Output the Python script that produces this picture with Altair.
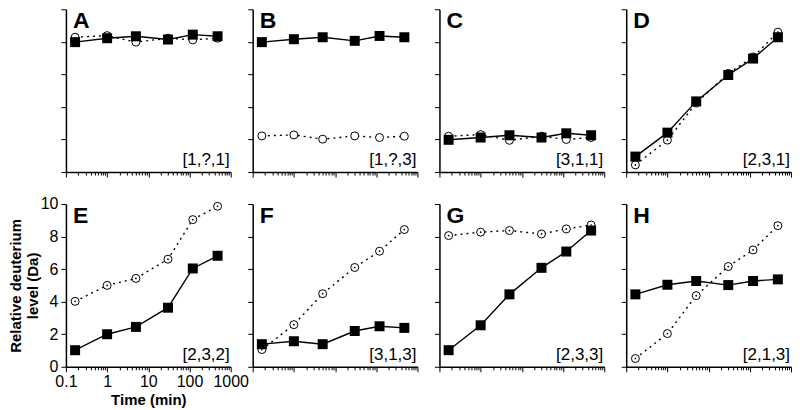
import altair as alt
import pandas as pd

panels = ["A", "B", "C", "D", "E", "F", "G", "H"]
codes = ["[1,?,1]", "[1,?,3]", "[3,1,1]", "[2,3,1]",
         "[2,3,2]", "[3,1,3]", "[2,3,3]", "[2,1,3]"]
times = [0.167, 1, 5, 30, 120, 480]

a_filled = [7.98, 8.22, 8.34, 8.14, 8.44, 8.34]
a_open = [8.28, 8.38, 7.98, 8.22, 8.12, 8.22]
b_filled = [7.98, 8.16, 8.28, 8.06, 8.36, 8.28]
b_open = [2.22, 2.28, 2.02, 2.22, 2.12, 2.20]
c_filled = [1.98, 2.12, 2.26, 2.12, 2.38, 2.26]
c_open = [2.20, 2.30, 1.95, 2.20, 2.00, 2.12]
d_filled = [0.95, 2.42, 4.34, 5.96, 6.97, 8.28]
d_open = [0.44, 1.96, 4.24, 6.06, 7.07, 8.59]
e_filled = [1.02, 2.00, 2.45, 3.63, 6.04, 6.82]
e_open = [4.02, 5.00, 5.43, 6.61, 9.04, 9.86]
f_filled = [1.39, 1.57, 1.39, 2.20, 2.49, 2.39]
f_open = [1.06, 2.59, 4.49, 6.10, 7.10, 8.43]
g_filled = [1.02, 2.55, 4.45, 6.08, 7.08, 8.37]
g_open = [8.06, 8.27, 8.37, 8.16, 8.47, 8.71]
h_filled = [4.45, 5.04, 5.27, 5.02, 5.27, 5.37]
h_open = [0.51, 2.04, 4.37, 6.16, 7.18, 8.67]

filled_series = [a_filled, b_filled, c_filled, d_filled, e_filled, f_filled, g_filled, h_filled]
open_series = [a_open, b_open, c_open, d_open, e_open, f_open, g_open, h_open]
dotted_centres = [False, False, False, True, True, True, True, True]

y_ticks = [0, 2, 4, 6, 8, 10]
x_ticks = [m * 10 ** e for e in range(-1, 3) for m in range(1, 10)] + [1000]

W, H = 165, 163
FONT = "Liberation Sans"
major = "abs(log(datum.value)/LN10 - round(log(datum.value)/LN10)) < 0.01"


def panel(i):
    letter = panels[i]
    df = pd.DataFrame({"t": times, "filled": filled_series[i], "open": open_series[i]})
    show = letter == "E"
    xaxis_kw = dict(
        values=x_ticks, orient="bottom", grid=False, domainColor="black", domainWidth=1.5,
        tickColor="black", tickWidth=1,
        tickSize={"condition": {"test": major, "value": 5}, "value": 3},
        labels=show, labelOverlap=False, labelFlush=False, labelBound=False,
        labelExpr=major + " ? format(datum.value, '~g') : ''",
        labelFont=FONT, labelFontSize=16, labelColor="black", labelPadding=2,
    )
    yaxis_kw = dict(
        values=y_ticks, orient="left", grid=False, domainColor="black", domainWidth=1.5,
        tickColor="black", tickWidth=1, tickSize=5, labels=show, labelFlush=False,
        labelOverlap=False, labelFont=FONT, labelFontSize=16, labelColor="black", labelPadding=3,
    )
    if show:
        xaxis = alt.Axis(title="Time (min)", titleFont=FONT, titleFontSize=15, titleFontWeight="bold",
                         titleColor="black", titlePadding=3, **xaxis_kw)
        yaxis = alt.Axis(title=["Relative deuterium", "level (Da)"], titleFont=FONT, titleFontSize=15,
                         titleFontWeight="bold", titleColor="black", titlePadding=0, titleLineHeight=17,
                         **yaxis_kw)
    else:
        xaxis = alt.Axis(title=None, **xaxis_kw)
        yaxis = alt.Axis(title=None, **yaxis_kw)

    xs = alt.Scale(type="log", domain=[0.1, 1000], nice=False)
    ys = alt.Scale(domain=[0, 10], nice=False, zero=False)
    base = alt.Chart(df)
    x = alt.X("t:Q", scale=xs, axis=xaxis)
    y_open = alt.Y("open:Q", scale=ys, axis=yaxis)
    y_filled = alt.Y("filled:Q", scale=ys, axis=yaxis)

    layers = [
        base.mark_line(color="black", strokeWidth=1.4, strokeDash=[2, 4]).encode(x=x, y=y_open),
        base.mark_circle(size=64, fill="white", stroke="black", strokeWidth=1, opacity=1).encode(x=x, y=y_open),
    ]
    if dotted_centres[i]:
        layers.append(base.mark_circle(size=3, color="black", opacity=1).encode(x=x, y=y_open))
    layers += [
        base.mark_line(color="black", strokeWidth=1.4).encode(x=x, y=y_filled),
        base.mark_square(size=100, color="black", opacity=1).encode(x=x, y=y_filled),
        alt.Chart(pd.DataFrame({"lab": [letter]})).mark_text(
            font=FONT, fontSize=23, fontWeight="bold", align="left", baseline="alphabetic", color="black"
        ).encode(x=alt.value(7), y=alt.value(19), text="lab:N"),
        alt.Chart(pd.DataFrame({"lab": [codes[i]]})).mark_text(
            font=FONT, fontSize=17, align="right", baseline="alphabetic", color="black"
        ).encode(x=alt.value(W - 1), y=alt.value(H - 7), text="lab:N"),
    ]
    return alt.layer(*layers).properties(
        width=W, height=H, view=alt.ViewBackground(stroke="transparent", strokeWidth=0)
    )


chart = alt.concat(
    *[panel(i) for i in range(8)], columns=4, spacing={"row": 32, "column": 22}, bounds="flush"
).properties(
    padding={"left": 0, "top": 0, "right": 0, "bottom": 0},
    background="white",
).configure_view(stroke="transparent", strokeWidth=0)

chart.save("out.html", embed_options={"renderer": "svg", "actions": False})
